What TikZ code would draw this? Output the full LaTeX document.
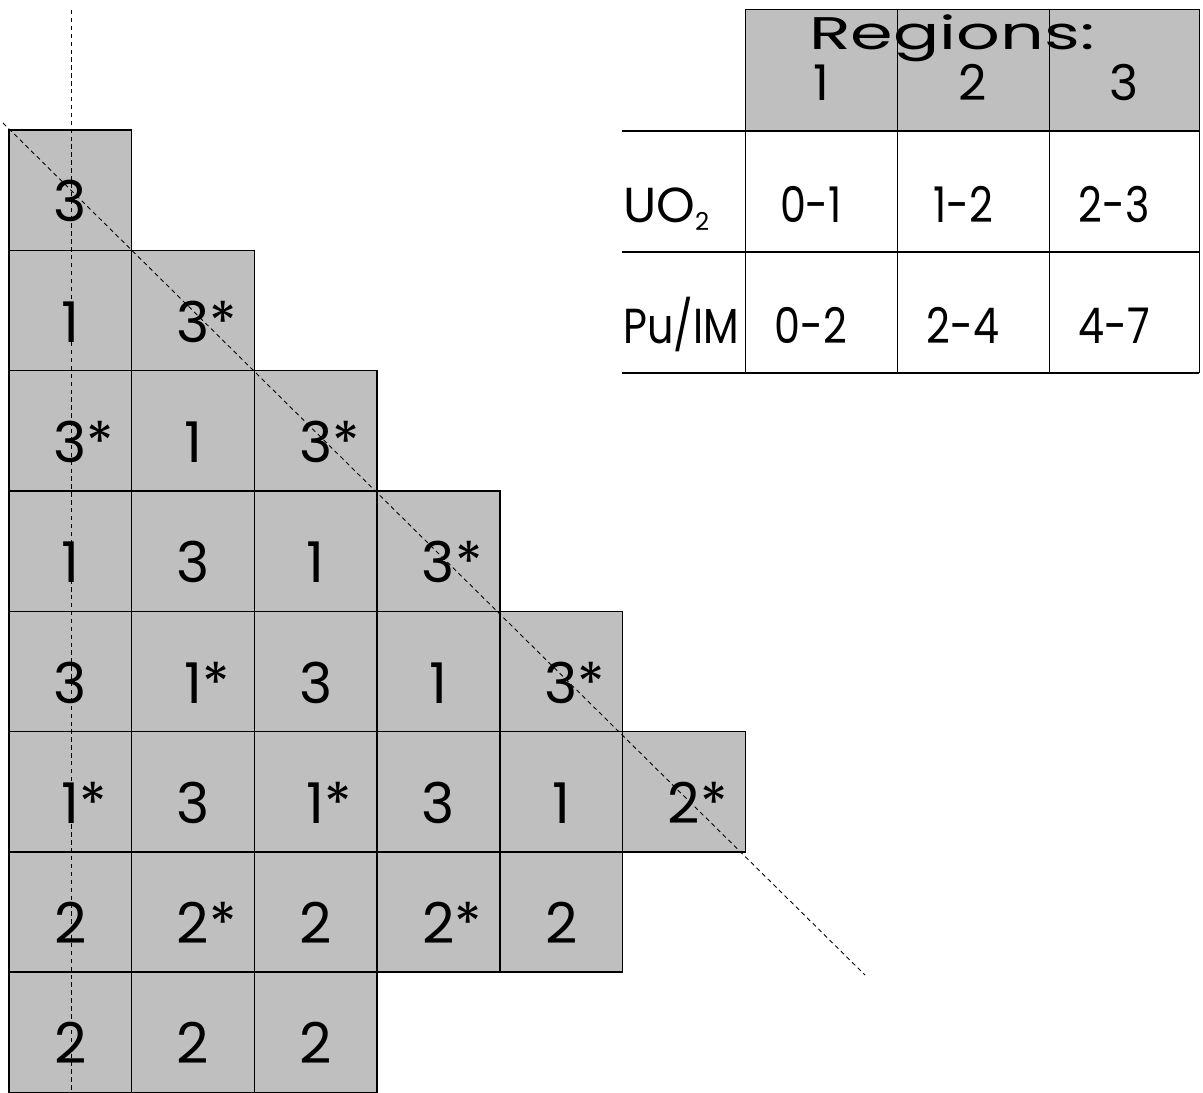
\documentclass[tikz,border=0pt]{standalone}
\usepackage{fontspec}
\setmainfont{Poppins}
\newcommand{\narrowtxt}[1]{\scalebox{0.84}[1]{#1}}

\begin{document}
\begin{tikzpicture}[
  x=0.02cm, y=-0.02cm,
  cellbox/.style={draw=black, line width=0.8pt, fill=black!25, minimum width=2.454cm, minimum height=2.406cm, inner sep=0pt, text height=36pt, text depth=0pt, font=\fontsize{32}{36}\selectfont},
  guideline/.style={draw=black, line width=0.5pt, dash pattern=on 2.5pt off 2pt},
  tabline/.style={draw=black, line width=0.9pt},
  colline/.style={draw=black, line width=0.5pt},
  tabtext/.style={anchor=base, inner sep=0pt, font=\fontsize{28}{30}\selectfont}
]
  \useasboundingbox (0,0) rectangle (1203,1092);

  \node[cellbox] (c00) at (70.4,190.2) {3};
  \node[cellbox] (c10) at (70.4,310.5) {1};
  \node[cellbox] (c11) at (193.1,310.5) {3\rlap{*}};
  \node[cellbox] (c20) at (70.4,430.8) {3\rlap{*}};
  \node[cellbox] (c21) at (193.1,430.8) {1};
  \node[cellbox] (c22) at (315.8,430.8) {3\rlap{*}};
  \node[cellbox] (c30) at (70.4,551.1) {1};
  \node[cellbox] (c31) at (193.1,551.1) {3};
  \node[cellbox] (c32) at (315.8,551.1) {1};
  \node[cellbox] (c33) at (438.5,551.1) {3\rlap{*}};
  \node[cellbox] (c40) at (70.4,671.4) {3};
  \node[cellbox] (c41) at (193.1,671.4) {1\rlap{*}};
  \node[cellbox] (c42) at (315.8,671.4) {3};
  \node[cellbox] (c43) at (438.5,671.4) {1};
  \node[cellbox] (c44) at (561.2,671.4) {3\rlap{*}};
  \node[cellbox] (c50) at (70.4,791.7) {1\rlap{*}};
  \node[cellbox] (c51) at (193.1,791.7) {3};
  \node[cellbox] (c52) at (315.8,791.7) {1\rlap{*}};
  \node[cellbox] (c53) at (438.5,791.7) {3};
  \node[cellbox] (c54) at (561.2,791.7) {1};
  \node[cellbox] (c55) at (683.9,791.7) {2\rlap{*}};
  \node[cellbox] (c60) at (70.4,912.0) {2};
  \node[cellbox] (c61) at (193.1,912.0) {2\rlap{*}};
  \node[cellbox] (c62) at (315.8,912.0) {2};
  \node[cellbox] (c63) at (438.5,912.0) {2\rlap{*}};
  \node[cellbox] (c64) at (561.2,912.0) {2};
  \node[cellbox] (c70) at (70.4,1032.3) {2};
  \node[cellbox] (c71) at (193.1,1032.3) {2};
  \node[cellbox] (c72) at (315.8,1032.3) {2};

  \coordinate (vtop) at (71,10);
  \coordinate (vbot) at (71,1092);
  \coordinate (dtop) at (3,123);
  \coordinate (dbot) at (865,975);
  \draw[guideline] (vtop) -- (vbot);
  \draw[guideline] (dtop) -- (dbot);

  \node[draw=black, line width=0.8pt, fill=black!25, anchor=north west, minimum width=9.08cm, minimum height=2.44cm, inner sep=0pt] (hdr) at (745,9) {};
  \draw[colline] (897,9) -- (897,373);
  \draw[colline] (1049,9) -- (1049,373);
  \draw[colline] (745,131) -- (745,373);
  \draw[colline] (1199,131) -- (1199,373);
  \draw[tabline] (622,131) -- (1199,131);
  \draw[tabline] (622,252) -- (1199,252);
  \draw[tabline] (622,373) -- (1199,373);

  \node[anchor=base, inner sep=0pt, font=\fontsize{26}{28}\selectfont] (regtitle) at (952,50) {\scalebox{1.5}[1]{Regions:}};
  \node[tabtext, font=\fontsize{28}{30}\selectfont] (reg1) at (821,100) {1};
  \node[tabtext, font=\fontsize{28}{30}\selectfont] (reg2) at (973,100) {2};
  \node[tabtext, font=\fontsize{28}{30}\selectfont] (reg3) at (1124,100) {3};

  \node[tabtext, anchor=base west] (uolabel) at (623,222) {UO\raisebox{-5pt}{\fontsize{14}{14}\selectfont 2}};
  \node[tabtext, anchor=base west] (pulabel) at (623,343) {\narrowtxt{Pu/IM}};
  \node[tabtext] (uo1) at (811,222) {\narrowtxt{0-1}};
  \node[tabtext] (uo2) at (963,222) {\narrowtxt{1-2}};
  \node[tabtext] (uo3) at (1114,222) {\narrowtxt{2-3}};
  \node[tabtext] (pu1) at (811,343) {\narrowtxt{0-2}};
  \node[tabtext] (pu2) at (963,343) {\narrowtxt{2-4}};
  \node[tabtext] (pu3) at (1114,343) {\narrowtxt{4-7}};
\end{tikzpicture}
\end{document}
